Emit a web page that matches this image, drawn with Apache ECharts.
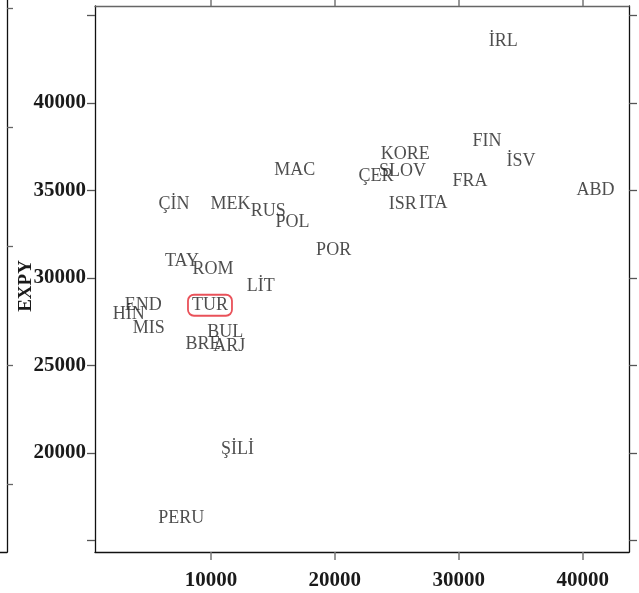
<!DOCTYPE html>
<html>
<head>
<meta charset="utf-8">
<script src="https://cdn.jsdelivr.net/npm/echarts@6/dist/echarts.min.js"></script>
<style>html,body{margin:0;padding:0;background:#fff}#c{width:639px;height:593px}</style>
</head>
<body>
<div id="c"></div>
<script>
// ---- data ----
const countries = ['İRL','FIN','İSV','FRA','ABD','KORE','SLOV','ÇER','MAC','ISR','ITA','RUS','POL','POR','MEK','ÇİN','TAY','ROM','LİT','TUR','END','HİN','MIS','BUL','BRE','ARJ','ŞİLİ','PERU'];
const gdp = [33600,32280,35020,30900,41030,25680,25460,23320,16760,25470,27940,14630,16580,19900,11570,7010,7660,10160,14020,9920,4540,3360,4970,11150,9350,11470,12140,7600];
const expy = [43540,37800,36690,35540,35030,37060,36090,35800,36140,34190,34270,33790,33160,31570,34200,34200,30970,30490,29540,28440,28440,27910,27150,26910,26200,26090,20230,16290];
const highlighted = 'TUR';
const xTicks = [10000,20000,30000,40000];
const yTicks = [15000,20000,25000,30000,35000,40000,45000];
const yTickLabels = [20000,25000,30000,35000,40000];
const yName = 'EXPY';

const chart = echarts.init(document.getElementById('c'), null, {renderer:'canvas'});
const serif = '"Liberation Serif", "DejaVu Serif", serif';
const points = countries.map((n,i)=>{
  const d = {name:n, value:[gdp[i], expy[i]]};
  if (n === highlighted) {
    d.label = {borderColor:'#e3262f', borderWidth:1.8, borderRadius:6, padding:[2,4,1,4]};
  }
  return d;
});
const xMin = 640, xMax = 43740, yMin = 14340, yMax = 45540;
chart.setOption({
  animation:false,
  grid:[
    {left:95, right:10, top:6, bottom:41, containLabel:false, outerBoundsMode:'none'},
    {left:-60, right:632, top:0, bottom:41, containLabel:false, outerBoundsMode:'none'}
  ],
  xAxis:[
    {gridIndex:0, type:'value', min:xMin, max:xMax, position:'bottom',
     axisLine:{show:true, onZero:false, lineStyle:{color:'#111', width:1.3}},
     axisTick:{show:true, inside:false, length:8, customValues:xTicks, lineStyle:{color:'#777', width:1.5}},
     axisLabel:{show:true, customValues:xTicks, formatter:v=>String(v), margin:18, color:'#1a1a1a', fontFamily:serif, fontWeight:'bold', fontSize:21},
     splitLine:{show:false}},
    {gridIndex:0, type:'value', min:xMin, max:xMax, position:'top',
     axisLine:{show:true, onZero:false, lineStyle:{color:'#666', width:1.3}},
     axisTick:{show:true, inside:false, length:7, customValues:xTicks, lineStyle:{color:'#777', width:1.5}},
     axisLabel:{show:false}, splitLine:{show:false}},
    {gridIndex:1, type:'value', min:0, max:1, position:'bottom',
     axisLine:{show:true, onZero:false, lineStyle:{color:'#111', width:1.3}},
     axisTick:{show:false}, axisLabel:{show:false}, splitLine:{show:false}}
  ],
  yAxis:[
    {gridIndex:0, type:'value', min:yMin, max:yMax, position:'left',
     name:yName, nameLocation:'middle', nameGap:59, nameRotate:90, nameMoveOverlap:false,
     nameTextStyle:{fontFamily:serif, fontWeight:'bold', fontSize:19, color:'#1a1a1a', padding:[0,14,0,0]},
     axisLine:{show:true, onZero:false, lineStyle:{color:'#111', width:1.3}},
     axisTick:{show:true, inside:false, length:8, customValues:yTicks, lineStyle:{color:'#555', width:1.3}},
     axisLabel:{show:true, customValues:yTickLabels, formatter:v=>String(v), margin:9, color:'#1a1a1a', fontFamily:serif, fontWeight:'bold', fontSize:21},
     splitLine:{show:false}},
    {gridIndex:0, type:'value', min:yMin, max:yMax, position:'right',
     axisLine:{show:true, onZero:false, lineStyle:{color:'#111', width:1.3}},
     axisTick:{show:true, inside:false, length:8, customValues:yTicks, lineStyle:{color:'#555', width:1.3}},
     axisLabel:{show:false}, splitLine:{show:false}},
    {gridIndex:1, type:'value', min:0, max:552, position:'right',
     axisLine:{show:true, onZero:false, lineStyle:{color:'#111', width:1.3}},
     axisTick:{show:true, inside:false, length:6, customValues:[68,187,306,425,544], lineStyle:{color:'#666', width:1.3}},
     axisLabel:{show:false}, splitLine:{show:false}}
  ],
  series:[{
    type:'scatter', xAxisIndex:0, yAxisIndex:0,
    symbolSize:0, silent:true,
    data:points,
    label:{show:true, position:'inside', formatter:p=>p.name, color:'#222', fontFamily:serif, fontSize:18}
  }]
});
</script>
</body>
</html>
